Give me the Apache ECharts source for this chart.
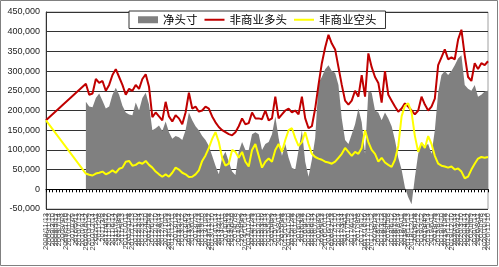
<!DOCTYPE html>
<html>
<head>
<meta charset="utf-8">
<script src="https://cdn.jsdelivr.net/npm/echarts@6/dist/echarts.min.js"></script>
<style>
  html, body { margin: 0; padding: 0; background: #fff; }
  #chart { width: 499px; height: 267px; }
</style>
</head>
<body>
<div id="chart"></div>
<script>
// 日期（横轴类目）
var dates = [
  "2008/11/13", "2009/1/13", "2009/3/10", "2009/5/12", "2009/7/14", "2009/9/8",
  "2009/11/10", "2010/1/12", "2010/3/9", "2010/5/11", "2010/7/13", "2010/9/14",
  "2010/10/12", "2010/11/9", "2010/12/14",
  "2011/1/11", "2011/2/8", "2011/3/8", "2011/4/12", "2011/5/10", "2011/6/14",
  "2011/7/12", "2011/8/9", "2011/9/13", "2011/10/11", "2011/11/8", "2011/12/13",
  "2012/1/10", "2012/2/14", "2012/3/13", "2012/4/10", "2012/5/8", "2012/6/12",
  "2012/7/10", "2012/8/14", "2012/9/11", "2012/10/9", "2012/11/13", "2012/12/11",
  "2013/1/8", "2013/2/12", "2013/3/12", "2013/4/9", "2013/5/14", "2013/6/11",
  "2013/7/9", "2013/8/13", "2013/9/10", "2013/10/8", "2013/11/12", "2013/12/10",
  "2014/1/14", "2014/2/11", "2014/3/11", "2014/4/8", "2014/5/13", "2014/6/10",
  "2014/7/8", "2014/8/12", "2014/9/9", "2014/10/14", "2014/11/11", "2014/12/9",
  "2015/1/13", "2015/2/10", "2015/3/10", "2015/4/14", "2015/5/12", "2015/6/9",
  "2015/7/14", "2015/8/11", "2015/9/8", "2015/10/13", "2015/11/10", "2015/12/8",
  "2016/1/12", "2016/2/9", "2016/3/8", "2016/4/12", "2016/5/10", "2016/6/14",
  "2016/7/12", "2016/8/9", "2016/9/13", "2016/10/11", "2016/11/8", "2016/12/13",
  "2017/1/10", "2017/2/14", "2017/3/14", "2017/4/11", "2017/5/9", "2017/6/13",
  "2017/7/11", "2017/8/8", "2017/9/12", "2017/10/10", "2017/11/14", "2017/12/12",
  "2018/1/9", "2018/2/13", "2018/3/13", "2018/4/10", "2018/5/8", "2018/6/12",
  "2018/7/10", "2018/8/14", "2018/9/11", "2018/10/9", "2018/11/13", "2018/12/11",
  "2019/1/8", "2019/2/12", "2019/3/12", "2019/4/9", "2019/5/14", "2019/6/11",
  "2019/7/9", "2019/8/13", "2019/9/10", "2019/10/8", "2019/11/12", "2019/12/10",
  "2020/1/14", "2020/2/11", "2020/3/10", "2020/4/14", "2020/5/12", "2020/6/9",
  "2020/7/14", "2020/8/11", "2020/9/8", "2020/10/13", "2020/11/10"
];

// 净头寸
var netPos = [
  null, null, null, null, null, null, null, null, null, null, null, null,
  222000, 210000, 208000, 232000, 243000, 225000, 205000, 210000, 240000, 258000,
  240000, 212000, 195000, 190000, 188000, 220000, 200000, 232000, 245000, 215000,
  150000, 155000, 162000, 148000, 172000, 145000, 128000, 135000, 132000, 125000,
  150000, 195000, 175000, 160000, 150000, 135000, 125000, 110000, 85000, 60000,
  38000, 80000, 95000, 70000, 45000, 36000, 95000, 120000, 100000, 100000,
  140000, 145000, 140000, 100000, 115000, 120000, 140000, 185000, 130000, 85000,
  115000, 80000, 55000, 50000, 100000, 150000, 70000, 32000, 75000, 130000,
  270000, 285000, 305000, 315000, 300000, 295000, 265000, 180000, 125000, 115000,
  140000, 165000, 205000, 170000, 90000, 250000, 245000, 200000, 195000, 175000,
  195000, 180000, 160000, 125000, 80000, 50000, 5000, -20000, -38000, 30000,
  90000, 120000, 110000, 115000, 90000, 150000, 245000, 290000, 300000, 290000,
  300000, 315000, 332000, 340000, 265000, 255000, 250000, 265000, 235000, 240000,
  248000, 250000
];

// 非商业多头
var longPos = [
  175000, null, null, null, null, null, null, null, null, null, null, null,
  268000, 240000, 243000, 280000, 270000, 275000, 250000, 265000, 290000, 305000,
  285000, 265000, 240000, 255000, 250000, 265000, 255000, 280000, 292000, 260000,
  183000, 195000, 185000, 175000, 222000, 185000, 172000, 188000, 180000, 165000,
  195000, 245000, 205000, 210000, 197000, 200000, 210000, 205000, 185000, 170000,
  158000, 150000, 145000, 140000, 137000, 145000, 160000, 180000, 165000, 168000,
  195000, 180000, 180000, 178000, 200000, 175000, 180000, 235000, 180000, 190000,
  200000, 205000, 195000, 200000, 190000, 235000, 180000, 155000, 160000, 205000,
  265000, 320000, 360000, 392000, 370000, 355000, 310000, 265000, 225000, 215000,
  225000, 250000, 235000, 290000, 235000, 345000, 310000, 285000, 270000, 220000,
  300000, 240000, 225000, 210000, 197000, 205000, 218000, 210000, 200000, 190000,
  200000, 235000, 215000, 200000, 210000, 230000, 315000, 335000, 355000, 330000,
  335000, 330000, 380000, 405000, 340000, 285000, 275000, 320000, 305000, 320000,
  315000, 325000
];

// 非商业空头
var shortPos = [
  175000, null, null, null, null, null, null, null, null, null, null, null,
  40000, 37000, 35000, 40000, 42000, 45000, 38000, 42000, 48000, 42000,
  52000, 55000, 70000, 72000, 60000, 62000, 68000, 65000, 72000, 62000,
  55000, 45000, 38000, 32000, 38000, 32000, 42000, 55000, 50000, 42000,
  38000, 31000, 32000, 38000, 48000, 72000, 86000, 105000, 128000, 145000,
  120000, 80000, 60000, 65000, 100000, 95000, 80000, 95000, 70000, 58000,
  100000, 115000, 85000, 55000, 70000, 78000, 70000, 100000, 115000, 95000,
  125000, 150000, 155000, 130000, 110000, 120000, 145000, 115000, 90000, 82000,
  78000, 75000, 70000, 68000, 65000, 70000, 80000, 90000, 105000, 95000,
  85000, 95000, 90000, 105000, 150000, 120000, 100000, 90000, 70000, 80000,
  68000, 62000, 57000, 75000, 110000, 185000, 212000, 218000, 195000, 135000,
  95000, 118000, 105000, 135000, 115000, 85000, 65000, 60000, 58000, 55000,
  58000, 50000, 53000, 45000, 28000, 32000, 50000, 65000, 78000, 82000,
  80000, 82000
];

// 千分位格式
function fmtNum(v) {
  return String(v).replace(/\B(?=(\d{3})+(?!\d))/g, ",");
}

// 图例里的细线图标（四角留点，撑开 20x7 的包围盒）
var lineIcon = "path://M0,0L0.01,0L0.01,0.01L0,0.01Z M0,2.5L20,2.5L20,4.5L0,4.5Z M19.99,6.99L20,6.99L20,7L19.99,7Z";

var chart = echarts.init(document.getElementById("chart"));
var option = {
  animation: false,
  backgroundColor: "#fff",
  textStyle: { fontFamily: "Noto Sans CJK SC" },
  graphic: [
    {
      type: "rect",
      shape: { x: 0.5, y: 0.5, width: 497, height: 265 },
      style: { fill: "none", stroke: "#808080", lineWidth: 1 },
      silent: true
    }
  ],
  legend: {
    left: 129,
    top: 11,
    padding: [3, 9],
    itemGap: 7,
    itemWidth: 20,
    itemHeight: 7,
    borderColor: "#333",
    borderWidth: 1,
    backgroundColor: "#fff",
    textStyle: { fontSize: 11.5, color: "#000", fontFamily: "Noto Sans CJK SC" },
    data: [
      { name: "净头寸", icon: "rect" },
      { name: "非商业多头", icon: lineIcon },
      { name: "非商业空头", icon: lineIcon }
    ]
  },
  grid: {
    left: 46,
    right: 11,
    top: 12,
    bottom: 58,
    show: true,
    borderColor: "#a0a0a0",
    borderWidth: 1,
    backgroundColor: "#fff"
  },
  xAxis: [
    {
      type: "category",
      data: dates,
      boundaryGap: false,
      axisLine: { onZero: true, lineStyle: { color: "#000", width: 1 } },
      axisTick: { show: true, interval: 0, length: 3, lineStyle: { color: "#000" } },
      axisLabel: { show: false },
      splitLine: { show: false }
    },
    {
      type: "category",
      data: dates,
      boundaryGap: false,
      position: "bottom",
      axisLine: { show: false, onZero: false },
      axisTick: { show: false },
      axisLabel: {
        rotate: 90,
        interval: 0,
        fontSize: 7.5,
        margin: 4,
        color: "#444",
        fontFamily: "Liberation Sans"
      },
      splitLine: { show: false }
    }
  ],
  yAxis: {
    type: "value",
    min: -50000,
    max: 450000,
    interval: 50000,
    axisLine: { show: true, lineStyle: { color: "#333" } },
    axisTick: { show: false },
    axisLabel: {
      fontSize: 9,
      margin: 6,
      color: "#222",
      fontFamily: "Liberation Sans",
      formatter: fmtNum
    },
    splitLine: { lineStyle: { color: "#333", width: 1 } }
  },
  series: [
    {
      name: "净头寸",
      type: "line",
      data: netPos,
      symbol: "none",
      itemStyle: { color: "#808080" },
      lineStyle: { width: 0 },
      areaStyle: { color: "#808080", opacity: 1 }
    },
    {
      name: "非商业多头",
      type: "line",
      data: longPos,
      symbol: "none",
      connectNulls: true,
      itemStyle: { color: "#c00000" },
      lineStyle: { color: "#c00000", width: 2 }
    },
    {
      name: "非商业空头",
      type: "line",
      data: shortPos,
      symbol: "none",
      connectNulls: true,
      itemStyle: { color: "#ffff00" },
      lineStyle: { color: "#ffff00", width: 2 }
    }
  ]
};
chart.setOption(option);
</script>
</body>
</html>
